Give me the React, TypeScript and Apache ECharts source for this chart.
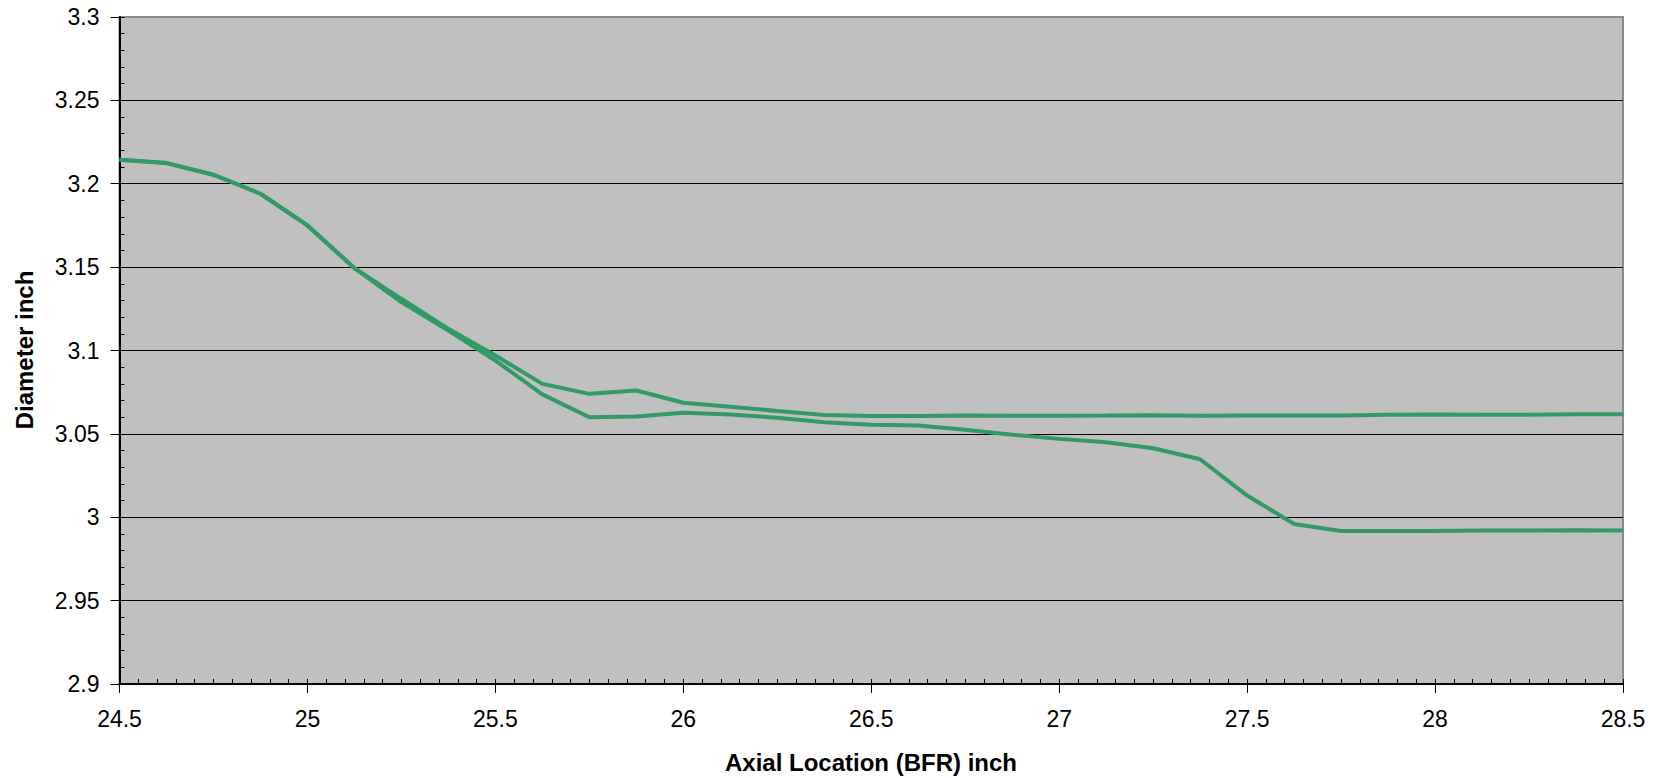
import React, { useEffect, useRef } from "react";
import * as echarts from "echarts";

const axialLocation = [
  24.5, 24.625, 24.75, 24.875, 25.0, 25.125, 25.25, 25.375, 25.5, 25.625, 25.75,
  25.875, 26.0, 26.125, 26.25, 26.375, 26.5, 26.625, 26.75, 26.875, 27.0, 27.125,
  27.25, 27.375, 27.5, 27.625, 27.75, 27.875, 28.0, 28.125, 28.25, 28.375, 28.5,
];

const diameterA = [
  3.2144, 3.2124, 3.2054, 3.194, 3.175, 3.1494, 3.131, 3.113, 3.097, 3.08, 3.074,
  3.076, 3.0687, 3.0663, 3.0637, 3.0613, 3.0607, 3.0607, 3.061, 3.0608, 3.0609, 3.061,
  3.0612, 3.0608, 3.061, 3.061, 3.061, 3.0614, 3.0616, 3.0614, 3.0615, 3.0617, 3.0618,
];

const diameterB = [
  3.2144, 3.2124, 3.2054, 3.194, 3.175, 3.1494, 3.129, 3.112, 3.094, 3.0737, 3.06,
  3.0604, 3.0627, 3.0616, 3.0597, 3.057, 3.0554, 3.055, 3.0525, 3.0495, 3.047, 3.045,
  3.0414, 3.0348, 3.013, 2.996, 2.9918, 2.9917, 2.9918, 2.992, 2.992, 2.9922, 2.992,
];

const X_MIN = 24.5;
const X_MAX = 28.5;
const Y_MIN = 2.9;
const Y_MAX = 3.3;
const xTitle = "Axial Location (BFR) inch";
const yTitle = "Diameter inch";

export default function App() {
  const ref = useRef<HTMLDivElement>(null);
  useEffect(() => {
    if (!ref.current) return;
    const chart = echarts.init(ref.current, null, { renderer: "svg" });
    const font = "Liberation Sans, Arial, sans-serif";
    const lineColor = "#339966";
    const mk = (ys: number[]) => axialLocation.map((x, i) => [x, ys[i]]);
    chart.setOption({
      animation: false,
      backgroundColor: "#ffffff",
      grid: {
        left: 119.5,
        right: 36,
        top: 17,
        bottom: 94,
        show: true,
        backgroundColor: "#C0C0C0",
        borderColor: "#8a8a8a",
        borderWidth: 2,
      },
      xAxis: [
        {
          type: "value",
          min: X_MIN,
          max: X_MAX,
          interval: 0.5,
          axisLine: { show: true, onZero: false, lineStyle: { color: "#000", width: 2 } },
          axisTick: { show: true, inside: false, length: 9, lineStyle: { color: "#000", width: 1 } },
          axisLabel: { color: "#000", fontSize: 23, fontFamily: font, margin: 23 },
          splitLine: { show: false },
        },
        {
          type: "value",
          position: "bottom",
          min: X_MIN,
          max: X_MAX,
          interval: 0.05,
          axisLine: { show: false },
          axisTick: { show: true, inside: true, length: 5, lineStyle: { color: "#000", width: 1 } },
          axisLabel: { show: false },
          splitLine: { show: false },
        },
      ],
      yAxis: [
        {
          type: "value",
          min: Y_MIN,
          max: Y_MAX,
          interval: 0.05,
          axisLine: { show: true, onZero: false, lineStyle: { color: "#000", width: 2 } },
          axisTick: { show: true, inside: false, length: 9, lineStyle: { color: "#000", width: 1 } },
          axisLabel: { color: "#000", fontSize: 23, fontFamily: font, margin: 20 },
          splitLine: {
            show: true,
            showMinLine: false,
            showMaxLine: false,
            lineStyle: { color: "#000", width: 1 },
          },
        },
        {
          type: "value",
          position: "left",
          min: Y_MIN,
          max: Y_MAX,
          interval: 0.01,
          axisLine: { show: false },
          axisTick: { show: true, inside: true, length: 5, lineStyle: { color: "#000", width: 1 } },
          axisLabel: { show: false },
          splitLine: { show: false },
        },
      ],
      series: [
        {
          type: "line",
          xAxisIndex: 0,
          yAxisIndex: 0,
          data: mk(diameterA),
          showSymbol: false,
          lineStyle: { color: lineColor, width: 4 },
          z: 5,
        },
        {
          type: "line",
          xAxisIndex: 0,
          yAxisIndex: 0,
          data: mk(diameterB),
          showSymbol: false,
          lineStyle: { color: lineColor, width: 4 },
          z: 5,
        },
      ],
      graphic: [
        {
          type: "text",
          x: 871,
          y: 762,
          style: {
            text: xTitle,
            fill: "#000",
            font: `bold 24px ${font}`,
            textAlign: "center",
            textVerticalAlign: "middle",
          },
        },
        {
          type: "text",
          x: 24,
          y: 350,
          rotation: Math.PI / 2,
          style: {
            text: yTitle,
            fill: "#000",
            font: `bold 24px ${font}`,
            textAlign: "center",
            textVerticalAlign: "middle",
          },
        },
      ],
    });
    return () => chart.dispose();
  }, []);
  return (
    <div
      ref={ref}
      style={{ position: "fixed", left: 0, top: 0, width: 1659, height: 778 }}
    />
  );
}
